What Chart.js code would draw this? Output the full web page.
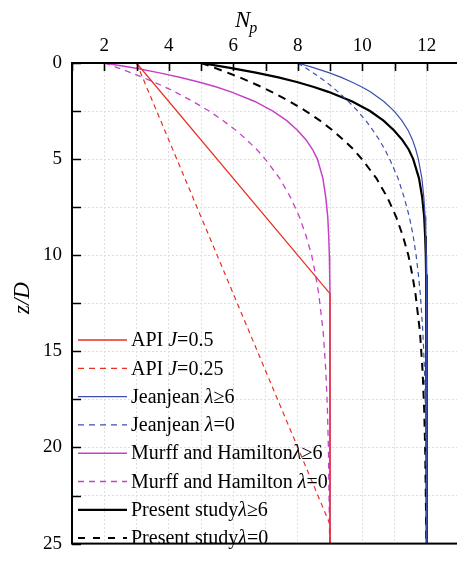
<!DOCTYPE html>
<html>
<head>
<meta charset="utf-8">
<script src="https://cdn.jsdelivr.net/npm/chart.js@4.4.1/dist/chart.umd.min.js"></script>
<style>
  body { margin: 0; overflow: hidden; background: #fff; }
  canvas { display: block; }
</style>
</head>
<body>
<canvas id="myChart" width="470" height="565"></canvas>
<script>
// data ===============================================================
const zCurve = [0, 0.25, 0.5, 0.75, 1, 1.25, 1.5, 2, 2.5, 3, 3.5, 4, 4.5, 5, 6, 7, 8, 9, 10, 11, 12, 14, 16, 18, 20, 22.5, 25];
const npJeanjean6 = [8.00, 8.51, 8.96, 9.35, 9.69, 9.99, 10.25, 10.67, 10.99, 11.23, 11.42, 11.56, 11.66, 11.74, 11.85, 11.91, 11.95, 11.97, 11.98, 11.99, 11.99, 12, 12, 12, 12, 12, 12];
const npJeanjean0 = [8.00, 8.24, 8.47, 8.68, 8.89, 9.07, 9.25, 9.57, 9.86, 10.11, 10.33, 10.53, 10.70, 10.85, 11.11, 11.30, 11.46, 11.58, 11.67, 11.74, 11.80, 11.88, 11.93, 11.96, 11.97, 11.99, 11.99];
const npMurff6 = [2.00, 2.90, 3.68, 4.37, 4.96, 5.48, 5.93, 6.67, 7.23, 7.66, 7.99, 8.26, 8.46, 8.61, 8.78, 8.87, 8.93, 8.96, 8.98, 8.99, 9, 9, 9, 9, 9, 9, 9];
const npMurff0 = [2.00, 2.42, 2.82, 3.20, 3.55, 3.88, 4.19, 4.75, 5.25, 5.69, 6.08, 6.42, 6.73, 6.99, 7.44, 7.78, 8.05, 8.26, 8.43, 8.55, 8.65, 8.79, 8.87, 8.92, 8.95, 8.97, 8.99];
const npPresent6 = [5.00, 5.90, 6.70, 7.40, 8.00, 8.50, 8.95, 9.69, 10.24, 10.66, 10.98, 11.24, 11.44, 11.58, 11.76, 11.86, 11.92, 11.95, 11.97, 11.98, 11.99, 12, 12, 12, 12, 12, 12];
const npPresent0 = [5.00, 5.42, 5.82, 6.20, 6.55, 6.88, 7.19, 7.75, 8.25, 8.69, 9.08, 9.42, 9.73, 9.99, 10.44, 10.78, 11.05, 11.26, 11.43, 11.55, 11.65, 11.79, 11.87, 11.92, 11.95, 11.97, 11.99];

const zApi05 = [0, 12, 25];
const npApi05 = [3, 9, 9];
const zApi025 = [0, 24, 25];
const npApi025 = [3, 9, 9];

const xTickLabels = [2, 4, 6, 8, 10, 12];
const yTickLabels = [0, 5, 10, 15, 20, 25];

// *...* = italic
const legendLabels = [
    "API *J*=0.5",
    "API *J*=0.25",
    "Jeanjean *λ*≥6",
    "Jeanjean *λ*=0",
    "Murff and Hamilton*λ*≥6",
    "Murff and Hamilton *λ*=0",
    "Present study*λ*≥6",
    "Present study*λ*=0"
];

const FONT = "'Liberation Serif', 'DejaVu Serif', serif";

function pts(xs, ys) {
    return xs.map((x, i) => ({ x: x, y: ys[i] }));
}

// plugins ===============================================================
function chartBorder(_width, _color) {
    return {
        id: 'chartAreaBorder',
        afterDraw(chart) {
            const { ctx, chartArea: { left, top, width, height } } = chart;
            const xs = chart.scales.x, ys = chart.scales.y;
            ctx.save();
            ctx.strokeStyle = _color;
            ctx.lineWidth = _width;
            ctx.strokeRect(left, top, width, height);
            // inward ticks
            ctx.lineWidth = 1.6;
            ctx.beginPath();
            xs.ticks.forEach(t => {
                const px = Math.round(xs.getPixelForValue(t.value)) + 0.5;
                ctx.moveTo(px, top);
                ctx.lineTo(px, top + 8);
            });
            ys.ticks.forEach(t => {
                const py = Math.round(ys.getPixelForValue(t.value)) + 0.5;
                ctx.moveTo(left, py);
                ctx.lineTo(left + 9, py);
            });
            ctx.stroke();
            ctx.restore();
        }
    };
}

function drawRich(ctx, text, x, y, size) {
    const parts = text.split('*');
    let cx = x;
    for (let i = 0; i < parts.length; i++) {
        if (!parts[i]) continue;
        ctx.font = (i % 2 ? 'italic ' : '') + size + 'px ' + FONT;
        ctx.fillText(parts[i], cx, y);
        cx += ctx.measureText(parts[i]).width;
    }
}

function titlesAndLegend() {
    return {
        id: 'titlesAndLegend',
        afterDraw(chart) {
            const ctx = chart.ctx;
            ctx.save();
            ctx.fillStyle = '#000';
            // N_p
            ctx.textAlign = 'left';
            ctx.textBaseline = 'alphabetic';
            ctx.font = 'italic 23px ' + FONT;
            ctx.fillText('N', 235, 27);
            let w = ctx.measureText('N').width;
            ctx.font = 'italic 16px ' + FONT;
            ctx.fillText('p', 235 + w - 1, 33);
            // z/D
            ctx.save();
            ctx.translate(23, 298);
            ctx.rotate(-Math.PI / 2);
            ctx.textAlign = 'center';
            ctx.textBaseline = 'middle';
            ctx.font = 'italic 23px ' + FONT;
            ctx.fillText('z/D', 0, 0);
            ctx.restore();
            // legend
            ctx.textBaseline = 'middle';
            ctx.textAlign = 'left';
            chart.data.datasets.forEach((ds, i) => {
                const y = 340 + i * 28.3;
                ctx.save();
                ctx.strokeStyle = ds.borderColor;
                ctx.lineWidth = ds.borderWidth;
                ctx.setLineDash(ds.legendDash || []);
                ctx.beginPath();
                ctx.moveTo(78, y);
                ctx.lineTo(127, y);
                ctx.stroke();
                ctx.restore();
                drawRich(ctx, legendLabels[i], 131, y + 1, 20);
            });
            ctx.restore();
        }
    };
}

// chart ===============================================================
function plot_np() {
    let ctx = document.getElementById("myChart");
    let red = "#ea2f25", blue = "#3b4fae", mag = "#c641c6";
    let datasets = [
        { data: pts(npApi05, zApi05), borderColor: red, borderWidth: 1.3 },
        { data: pts(npApi025, zApi025), borderColor: red, borderWidth: 1.2, borderDash: [5, 4], legendDash: [6, 5] },
        { data: pts(npJeanjean6, zCurve), borderColor: blue, borderWidth: 1.2 },
        { data: pts(npJeanjean0, zCurve), borderColor: blue, borderWidth: 1.2, borderDash: [5, 4], legendDash: [6, 5] },
        { data: pts(npMurff6, zCurve), borderColor: mag, borderWidth: 1.5 },
        { data: pts(npMurff0, zCurve), borderColor: mag, borderWidth: 1.3, borderDash: [6, 5], legendDash: [6, 5] },
        { data: pts(npPresent6, zCurve), borderColor: "#000", borderWidth: 2.2 },
        { data: pts(npPresent0, zCurve), borderColor: "#000", borderWidth: 2, borderDash: [8, 6], legendDash: [7, 8] }
    ];
    datasets.forEach((d, i) => {
        d.label = legendLabels[i];
        d.showLine = true;
        d.pointRadius = 0;
        d.fill = false;
        d.tension = 0;
    });

    let grid = { color: "#dedede", lineWidth: 1, drawTicks: false };
    let options = {
        responsive: false,
        animation: false,
        devicePixelRatio: 1,
        layout: { padding: { left: 0, top: 0, right: 11, bottom: 11 } },
        plugins: {
            legend: { display: false },
            tooltip: { enabled: false }
        },
        scales: {
            x: {
                type: 'linear',
                position: 'top',
                min: 1,
                max: 13,
                grid: grid,
                border: { display: false, dash: [2, 2] },
                afterFit: (s) => { s.height = 63; },
                ticks: {
                    stepSize: 1,
                    autoSkip: false,
                    maxRotation: 0,
                    padding: 6,
                    color: "#000",
                    font: { family: FONT, size: 19 },
                    callback: (v) => xTickLabels.includes(v) ? String(v) : ''
                }
            },
            y: {
                type: 'linear',
                reverse: true,
                min: 0,
                max: 25,
                grid: grid,
                border: { display: false, dash: [2, 2] },
                afterFit: (s) => { s.width = 72; },
                ticks: {
                    stepSize: 2.5,
                    autoSkip: false,
                    padding: 10,
                    color: "#000",
                    font: { family: FONT, size: 19 },
                    callback: (v) => yTickLabels.includes(v) ? String(v) : ''
                }
            }
        }
    };
    new Chart(ctx, {
        type: "scatter",
        data: { datasets: datasets },
        options: options,
        plugins: [chartBorder(2, '#000'), titlesAndLegend()]
    });
}

plot_np();
</script>
</body>
</html>
